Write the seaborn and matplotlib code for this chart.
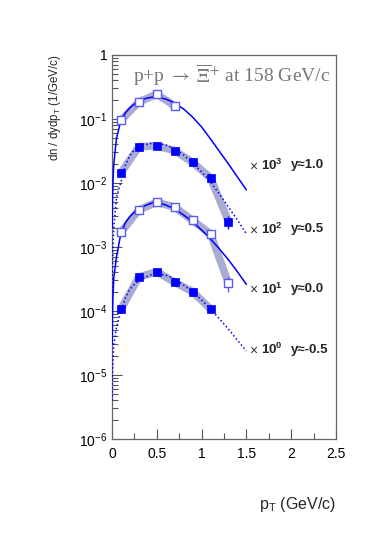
import numpy as np
import pandas as pd
import matplotlib
matplotlib.use("Agg")
import matplotlib.pyplot as plt
import matplotlib.ticker as mticker
import seaborn as sns

# measured points (already scaled by 10^3, 10^2, 10^1, 10^0)
pt_pts = [0.1, 0.3, 0.5, 0.7, 0.9, 1.1, 1.3]
y_p10 = [0.095, 0.185, 0.245, 0.16]
y_p05 = [0.0144, 0.037, 0.038, 0.032, 0.021, 0.012, 0.0025]
y_p00 = [0.0017, 0.0038, 0.005, 0.0042, 0.0026, 0.0016, 0.00027]
y_m05 = [1.07e-4, 3.4e-4, 4.1e-4, 2.8e-4, 2.0e-4, 1.07e-4]
err_p05 = [0, 0, 0, 0, 0, 0, 0.0006]
err_p00 = [0, 0, 0, 0, 0, 0, 0.00007]

# fit curves
pt_fit = [0.002, 0.005, 0.01, 0.02, 0.05, 0.1, 0.15, 0.2, 0.25, 0.3, 0.38, 0.45,
          0.52, 0.6, 0.7, 0.8, 0.9, 1.0, 1.1, 1.2, 1.3, 1.4, 1.5]
f_p10 = [0.002, 0.005, 0.0098, 0.02, 0.05, 0.096, 0.125, 0.15, 0.172, 0.19, 0.21, 0.22,
         0.218, 0.205, 0.178, 0.143, 0.107, 0.075, 0.0487, 0.031, 0.0198, 0.0124, 0.0078]
f_p05 = [0.0002, 0.0005, 0.001, 0.002, 0.006, 0.0104, 0.019, 0.027, 0.033, 0.037, 0.040, 0.042,
         0.0415, 0.0393, 0.034, 0.0274, 0.0205, 0.0149, 0.0104, 0.0067, 0.0042, 0.00264, 0.0016]
f_p00 = [0.00003, 0.00008, 0.00016, 0.00033, 0.0007, 0.00166, 0.0024, 0.003, 0.0035, 0.0039, 0.0045, 0.0049,
         0.0049, 0.00453, 0.00392, 0.00316, 0.00246, 0.00184, 0.00133, 0.00093, 0.00063, 0.00041, 0.00026]
f_m05 = [4e-6, 1e-5, 1.8e-5, 3e-5, 5.6e-5, 1e-4, 1.6e-4, 2.2e-4, 2.6e-4, 3e-4, 3.4e-4, 3.75e-4,
         3.75e-4, 3.65e-4, 3.16e-4, 2.55e-4, 1.98e-4, 1.49e-4, 1.07e-4, 7.5e-5, 5.2e-5, 3.5e-5, 2.37e-5]

labels = ["10^3", "10^2", "10^1", "10^0"]
rap = ["y≈1.0", "y≈0.5", "y≈0.0", "y≈-0.5"]
label_y = [0.019, 0.0019, 2.2e-4, 2.5e-5]

sns.set_theme(style="ticks")
plt.rcParams['font.family'] = ['Liberation Sans', 'DejaVu Sans']
plt.rcParams['mathtext.fontset'] = 'custom'
plt.rcParams['mathtext.rm'] = 'Liberation Sans'
plt.rcParams['mathtext.it'] = 'Liberation Sans'
plt.rcParams['mathtext.bf'] = 'Liberation Sans:bold'

fig = plt.figure(figsize=(3.74, 5.5), dpi=100)
ax = fig.add_axes([0.2995, 0.2018, 0.5989, 0.6982])

band_col = "#9a9cc8"
blue = "#0000ff"
open_col = "#5a5aff"

series = [
    (y_p10, None, f_p10, True, "-"),
    (y_p05, err_p05, f_p05, False, (0, (1, 1.6))),
    (y_p00, err_p00, f_p00, True, "-"),
    (y_m05, None, f_m05, False, (0, (1, 1.6))),
]

for yv, ev, fv, is_open, ls in series:
    x = pt_pts[:len(yv)]
    df = pd.DataFrame({"pt": x, "y": yv})
    # systematic band
    sns.lineplot(data=df, x="pt", y="y", ax=ax, color=band_col, lw=5.5,
                 alpha=0.85, estimator=None, sort=False, zorder=2,
                 solid_capstyle="round")
    dfit = pd.DataFrame({"pt": pt_fit, "y": fv})
    sns.lineplot(data=dfit, x="pt", y="y", ax=ax, color=blue, lw=1.1,
                 linestyle=ls, estimator=None, sort=False, zorder=3)
    if ev is not None:
        ax.errorbar(x, yv, yerr=ev, fmt="none", ecolor=open_col if is_open else blue,
                    elinewidth=1.0, capsize=0, zorder=4)
    if is_open:
        ax.scatter(x, yv, marker="s", s=30, facecolor="white", edgecolor=open_col,
                   linewidth=1.0, zorder=5)
    else:
        ax.scatter(x, yv, marker="s", s=32, facecolor=blue, edgecolor=blue,
                   linewidth=0.5, zorder=5)

ax.set_yscale("log")
ax.set_xlim(0, 2.5)
ax.set_ylim(1e-6, 1)

ax.xaxis.set_major_locator(mticker.MultipleLocator(0.5))
ax.xaxis.set_minor_locator(mticker.MultipleLocator(0.25))
ax.xaxis.set_major_formatter(mticker.FuncFormatter(lambda v, p: f"{v:g}"))


def ylab(v, p):
    e = int(round(np.log10(v)))
    if e == 0:
        return "1"
    return r"$10^{%d}$" % e


ax.yaxis.set_major_locator(mticker.LogLocator(base=10, numticks=10))
ax.yaxis.set_minor_locator(mticker.LogLocator(base=10, subs=np.arange(2, 10), numticks=20))
ax.yaxis.set_major_formatter(mticker.FuncFormatter(ylab))
ax.yaxis.set_minor_formatter(mticker.NullFormatter())

ax.tick_params(which="both", direction="in", colors="#555555", labelcolor="black",
               labelsize=10, width=0.8)
ax.tick_params(which="major", length=7)
ax.tick_params(which="minor", length=4)
ax.tick_params(axis="x", pad=6)
for s in ax.spines.values():
    s.set_color("#666666")
    s.set_linewidth(0.9)

ax.set_xlabel("")
ax.set_ylabel("")
fig.text(0.898, 0.082, r"p$_{\rm T}$ (GeV/c)", ha="right", va="center", fontsize=11.5)
fig.text(0.148, 0.9, r"dn / dydp$_{\rm T}$ (1/GeV/c)", ha="center", va="top",
         rotation=90, fontsize=8.3)

ax.text(0.095, 0.948, r"p+p $\rightarrow$ $\overline{\Xi}^{+}$ at 158 GeV/c",
        transform=ax.transAxes, fontsize=14, color="#777777", va="center",
        ha="left", family="Liberation Serif", math_fontfamily="stix")

for lab, r, yy in zip(labels, rap, label_y):
    ax.text(1.53, yy, r"$\times$", fontsize=10, color="#333333", va="center",
            ha="left", clip_on=False)
    e = lab.split("^")[1]
    ax.text(1.66, yy, r"$\mathbf{10^{%s}}$" % e, fontsize=9.5, va="center",
            ha="left", clip_on=False)
    ax.text(2.0, yy, r, fontsize=9.5, fontweight="bold", va="center",
            ha="left", clip_on=False)

fig.savefig("out.png", dpi=100)
